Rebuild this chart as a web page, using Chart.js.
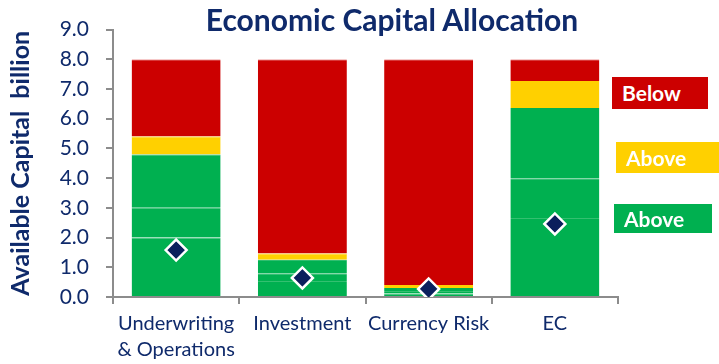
<!DOCTYPE html>
<html>
<head>
<meta charset="utf-8">
<script src="https://cdn.jsdelivr.net/npm/chart.js@4"></script>
<style>
  body { margin: 0; background: #fff; }
  #wrap { position: relative; width: 719px; height: 364px; }
  #title {
    position: absolute; left: 0; width: 784px; top: 1px; text-align: center;
    font: bold 30px Lato, sans-serif; color: #0f2a6b;
  }
  .tag {
    position: absolute; color: #fff; font: bold 21px Lato, sans-serif;
    box-sizing: border-box; padding-left: 10px;
  }
</style>
</head>
<body>
<div id="wrap">
  <canvas id="chart"></canvas>
  <div id="title">Economic Capital Allocation</div>
  <div class="tag" style="left:612px; top:77px; width:96px; height:32px; line-height:32px; background:#cc0000;">Below</div>
  <div class="tag" style="left:616px; top:142px; width:103px; height:31px; line-height:31px; background:#ffd000;">Above</div>
  <div class="tag" style="left:614px; top:204px; width:98px; height:29px; line-height:29px; background:#00b050;">Above</div>
</div>
<script>
const categories = [["Underwriting", "& Operations"], "Investment", "Currency Risk", "EC"];
// green split in three parts (faint lines inside the green)
const green1 = [2.0, 0.54, 0.12, 2.66];
const green2 = [1.0, 0.26, 0.08, 1.34];
const green3 = [1.8, 0.45, 0.10, 2.36];
const yellow = [0.6, 0.21, 0.10, 0.91];
const red = [2.6, 6.54, 7.60, 0.73];
const diamonds = [1.58, 0.64, 0.27, 2.46];
const yTicks = [0, 1, 2, 3, 4, 5, 6, 7, 8, 9];

const navy = "#0f2a6b";
const axisGrey = "#8c8c8c";

function barSet(data, color, line) {
  return {
    type: "bar",
    data: data,
    backgroundColor: color,
    borderColor: line,
    borderWidth: { top: 1, left: 0, right: 0, bottom: 0 },
    stack: "cap",
    order: 1,
    barPercentage: 0.705,
    categoryPercentage: 1,
  };
}

const ctx = document.getElementById("chart").getContext("2d");
new Chart(ctx, {
  data: {
    labels: categories,
    datasets: [
      barSet(green1, "#00b050", "#33c070"),
      barSet(green2, "#00b050", "#33c070"),
      barSet(green3, "#00b050", "#00b050"),
      barSet(yellow, "#ffd000", "#ffd000"),
      barSet(red, "#cc0000", "#f0a0a0"),
      {
        type: "line",
        data: diamonds,
        showLine: false,
        stack: "marker",
        order: 0,
        pointStyle: "rectRot",
        pointRadius: 10.5,
        pointBackgroundColor: "#0a1f5c",
        pointBorderColor: "#fff",
        pointBorderWidth: 2.5,
      },
    ],
  },
  options: {
    responsive: true,
    maintainAspectRatio: false,
    animation: false,
    layout: { padding: { top: 28, right: 101, bottom: 0, left: 0 } },
    plugins: { legend: { display: false }, tooltip: { enabled: false } },
    scales: {
      x: {
        stacked: true,
        grid: { offset: true, drawOnChartArea: false, tickLength: 7, color: axisGrey, lineWidth: 2 },
        border: { color: axisGrey, width: 2 },
        ticks: {
          color: navy, font: { family: "Lato", size: 20, lineHeight: 1.3 },
          padding: 7, maxRotation: 0, autoSkip: false,
        },
        afterFit: (s) => { s.height = 67; },
      },
      y: {
        stacked: true,
        min: 0,
        max: 9,
        afterBuildTicks: (s) => { s.ticks = yTicks.map((v) => ({ value: v })); },
        grid: { drawOnChartArea: false, tickLength: 7, color: axisGrey, lineWidth: 2 },
        border: { color: axisGrey, width: 2 },
        ticks: { color: navy, font: { family: "Lato", size: 21 }, padding: 17, callback: (v) => v.toFixed(1) },
        title: {
          display: true,
          text: "Available Capital  billion",
          color: navy,
          font: { family: "Lato", size: 25, weight: "bold" },
          padding: { top: 6, bottom: 0 },
        },
        afterFit: (s) => { s.width = 113; },
      },
    },
  },
});
</script>
</body>
</html>
